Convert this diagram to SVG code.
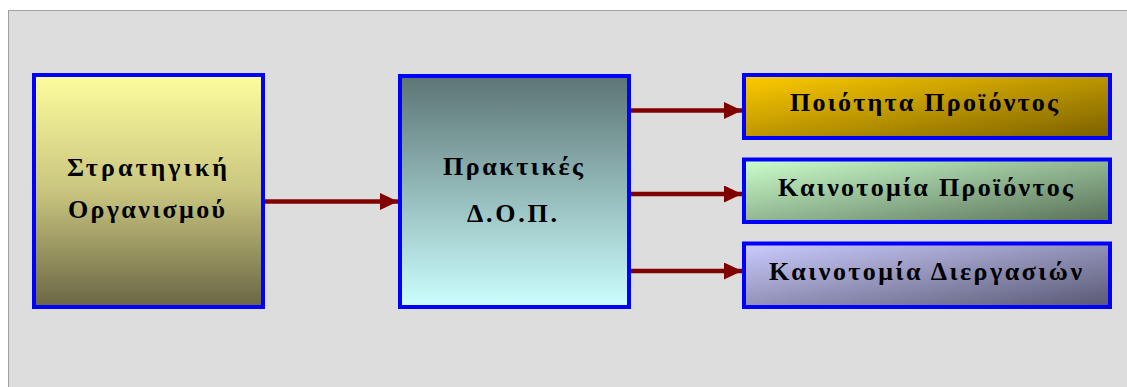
<svg xmlns="http://www.w3.org/2000/svg" width="1127" height="387" viewBox="0 0 1127 387">
<style>
.box{stroke:#0000ff;stroke-width:4}
.lbl{font-family:"Liberation Serif","Times New Roman",serif;font-weight:bold;font-size:26px;fill:#000}
.conn{stroke:#800000;stroke-width:4.5;fill:none}
</style>
<defs>
<linearGradient id="g1" x1="0" y1="0" x2="0" y2="1">
<stop offset="0" stop-color="#fdfd9d"/><stop offset="0.5" stop-color="#c9c57f"/><stop offset="1" stop-color="#6a6644"/>
</linearGradient>
<linearGradient id="g2" x1="0" y1="0" x2="0" y2="1">
<stop offset="0" stop-color="#5c7474"/><stop offset="1" stop-color="#ccffff"/>
</linearGradient>
<linearGradient id="gA" x1="0" y1="0" x2="1" y2="1">
<stop offset="0" stop-color="#ffcc00"/><stop offset="1" stop-color="#7a6000"/>
</linearGradient>
<linearGradient id="gB" x1="0" y1="0" x2="1" y2="1">
<stop offset="0" stop-color="#ccffcc"/><stop offset="1" stop-color="#587058"/>
</linearGradient>
<linearGradient id="gC" x1="0" y1="0" x2="1" y2="1">
<stop offset="0" stop-color="#ccccff"/><stop offset="1" stop-color="#585872"/>
</linearGradient>
<marker id="arr" markerUnits="userSpaceOnUse" markerWidth="18" markerHeight="17" refX="18" refY="8.5" orient="auto">
<path d="M0,0 L18,8.5 L0,17 z" fill="#800000"/>
</marker>
</defs>
<rect x="0" y="0" width="1127" height="387" fill="#ffffff"/>
<rect x="8.5" y="10.5" width="1130" height="400" fill="#dddddd" stroke="#a0a0a0" stroke-width="1"/>
<g id="connectors">
<line class="conn" x1="265" y1="201.5" x2="398" y2="201.5" marker-end="url(#arr)"/>
<line class="conn" x1="631" y1="110.5" x2="742" y2="110.5" marker-end="url(#arr)"/>
<line class="conn" x1="631" y1="194" x2="742" y2="194" marker-end="url(#arr)"/>
<line class="conn" x1="631" y1="271" x2="742" y2="271" marker-end="url(#arr)"/>
</g>
<g id="strategy">
<rect class="box" x="34" y="75" width="229" height="232" fill="url(#g1)"/>
<text class="lbl" x="67" y="176" textLength="160" lengthAdjust="spacing">Στρατηγική</text>
<text class="lbl" x="68" y="218" textLength="157" lengthAdjust="spacing">Οργανισμού</text>
</g>
<g id="practices">
<rect class="box" x="400" y="76" width="229" height="231" fill="url(#g2)"/>
<text class="lbl" x="443" y="175" textLength="140" lengthAdjust="spacing">Πρακτικές</text>
<text class="lbl" x="467" y="222" textLength="90" lengthAdjust="spacing">Δ.Ο.Π.</text>
</g>
<g id="quality">
<rect class="box" x="744" y="75" width="366" height="63" fill="url(#gA)"/>
<text class="lbl" x="790" y="111" textLength="268" lengthAdjust="spacing">Ποιότητα Προϊόντος</text>
</g>
<g id="product-innovation">
<rect class="box" x="744" y="159.5" width="366" height="62.5" fill="url(#gB)"/>
<text class="lbl" x="778" y="196" textLength="295" lengthAdjust="spacing">Καινοτομία Προϊόντος</text>
</g>
<g id="process-innovation">
<rect class="box" x="744" y="243.5" width="366" height="63.5" fill="url(#gC)"/>
<text class="lbl" x="769" y="280" textLength="313" lengthAdjust="spacing">Καινοτομία Διεργασιών</text>
</g>
</svg>
